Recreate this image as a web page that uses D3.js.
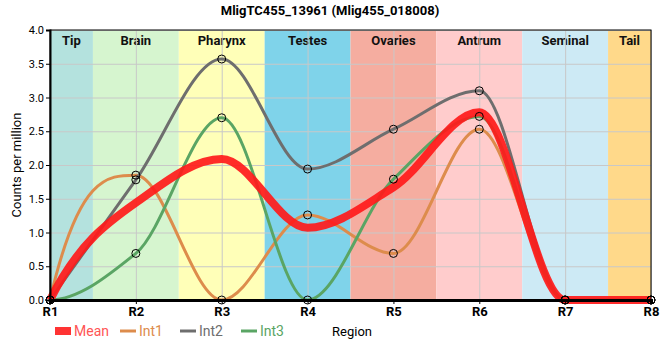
<!DOCTYPE html>
<html><head><meta charset="utf-8">
<script src="https://cdn.jsdelivr.net/npm/d3@7"></script>
<style>
body{margin:0;background:#fff;}
text{font-family:Roboto,"Liberation Sans",Arial,sans-serif;}
</style></head><body>
<svg id="chart" width="660" height="360"></svg>
<script>
const regions = ["R1","R2","R3","R4","R5","R6","R7","R8"];
const bandNames = ["Tip","Brain","Pharynx","Testes","Ovaries","Antrum","Seminal","Tail"];
const bandColors = ["#b4e2de","#d6f5cf","#ffffb8","#7fd3ea","#f5ada0","#ffcccc","#cdeaf5","#ffd98a"];
const int1 = [0, 1.85, 0, 1.26, 0.69, 2.53, 0, 0];
const int2 = [0, 1.78, 3.57, 1.94, 2.53, 3.10, 0, 0];
const int3 = [0, 0.69, 2.70, 0, 1.79, 2.72, 0, 0];
const mean = [0, 1.44, 2.09, 1.07, 1.67, 2.78, 0, 0];
const yTicks = [0,0.5,1,1.5,2,2.5,3,3.5,4];

// monotone (PCHIP-style) curve factory for d3.line
function CurvePchip(context){ this._context = context; }
CurvePchip.prototype = {
  areaStart(){}, areaEnd(){},
  lineStart(){ this._x=[]; this._y=[]; },
  point(x,y){ this._x.push(+x); this._y.push(+y); },
  lineEnd(){
    const X=this._x, Y=this._y, n=X.length, c=this._context;
    if(!n) return;
    c.moveTo(X[0],Y[0]);
    if(n<2) return;
    const h=[], d=[];
    for(let i=0;i<n-1;i++){ h.push(X[i+1]-X[i]); d.push((Y[i+1]-Y[i])/h[i]); }
    const m=new Array(n).fill(0);
    for(let k=1;k<n-1;k++){
      if(d[k-1]===0||d[k]===0||Math.sign(d[k-1])!==Math.sign(d[k])) m[k]=0;
      else { const w1=2*h[k]+h[k-1], w2=h[k]+2*h[k-1]; m[k]=(w1+w2)/(w1/d[k-1]+w2/d[k]); }
    }
    const edge=(dd,mn)=>{
      if(dd===0) return 0;
      let v=3*dd-2*mn;
      if(Math.sign(v)!==Math.sign(dd)) v=0;
      if(Math.abs(v)>Math.abs(3*dd)) v=3*dd;
      return v;
    };
    m[0]=edge(d[0], n>2?m[1]:d[0]);
    m[n-1]=edge(d[n-2], n>2?m[n-2]:d[n-2]);
    for(let i=0;i<n-1;i++){
      const dx=h[i]/3;
      c.bezierCurveTo(X[i]+dx,Y[i]+dx*m[i],X[i+1]-dx,Y[i+1]-dx*m[i+1],X[i+1],Y[i+1]);
    }
  }
};
const curvePchip = ctx => new CurvePchip(ctx);

const W=660,H=360, m={l:50,r:9,t:30,b:60};
const svg = d3.select("#chart");
const x = d3.scalePoint().domain(regions).range([m.l, W-m.r]);
const step = x.step();
const y = d3.scaleLinear().domain([0,4]).range([H-m.b, m.t]);

// bands
const bandG = svg.append("g");
bandNames.forEach((n,i)=>{
  const x0 = Math.max(m.l, x(regions[0]) + (i-0.5)*step);
  const x1 = Math.min(W-m.r, x(regions[0]) + (i+0.5)*step);
  bandG.append("rect").attr("x",x0).attr("y",m.t).attr("width",x1-x0).attr("height",y(0)-m.t).attr("fill",bandColors[i]);
  bandG.append("text").attr("x",(x0+x1)/2).attr("y",45).attr("text-anchor","middle")
    .attr("font-size",13).attr("font-weight","bold").attr("fill","#111").text(n);
});

// grid
const grid = svg.append("g").attr("stroke","#c8c8c8").attr("stroke-width",1);
yTicks.forEach(t=>grid.append("line").attr("x1",m.l).attr("x2",W-m.r).attr("y1",y(t)+0.5).attr("y2",y(t)+0.5));
regions.forEach(r=>grid.append("line").attr("x1",x(r)+0.5).attr("x2",x(r)+0.5).attr("y1",m.t).attr("y2",y(0)));

const line = d3.line().x((d,i)=>x(regions[i])).y(d=>y(d)).curve(curvePchip);
const series = [
  {name:"Int1", vals:int1, color:"#dd8c4c"},
  {name:"Int2", vals:int2, color:"#6e6e6e"},
  {name:"Int3", vals:int3, color:"#5aa564"}
];
series.forEach(s=>{
  svg.append("path").attr("d",line(s.vals)).attr("fill","none").attr("stroke",s.color).attr("stroke-width",3);
});
svg.append("path").attr("d",line(mean)).attr("fill","none").attr("stroke","#ff1a1a").attr("stroke-opacity",0.92).attr("stroke-width",8);
series.forEach(s=>{
  svg.append("g").selectAll("circle").data(s.vals).join("circle")
    .attr("cx",(d,i)=>x(regions[i])).attr("cy",d=>y(d)).attr("r",4)
    .attr("fill","none").attr("stroke","#000").attr("stroke-width",1);
});

// frame
svg.append("rect").attr("x",m.l).attr("y",m.t).attr("width",W-m.r-m.l).attr("height",y(0)-m.t)
  .attr("fill","none").attr("stroke","#000").attr("stroke-width",1);

// axes
const xAxis = svg.append("g").attr("transform",`translate(0,${y(0)})`)
  .call(d3.axisBottom(x).tickSize(4).tickPadding(3));
xAxis.select(".domain").attr("stroke-width",3);
xAxis.selectAll("text").attr("font-size",13).attr("font-weight","bold").attr("fill","#000").style("font-family","Roboto,Arial,sans-serif");
const yAxis = svg.append("g").attr("transform",`translate(${m.l},0)`)
  .call(d3.axisLeft(y).tickValues(yTicks).tickFormat(d3.format(".1f")).tickSize(4).tickPadding(2));
yAxis.select(".domain").attr("stroke-width",2);
yAxis.selectAll("text").attr("font-size",11).attr("fill","#000").style("font-family","Roboto,Arial,sans-serif");

// title & labels
svg.append("text").attr("x",330).attr("y",15).attr("text-anchor","middle").attr("font-size",13).attr("font-weight","bold").text("MligTC455_13961 (Mlig455_018008)");
svg.append("text").attr("transform",`translate(21,${(m.t+y(0))/2}) rotate(-90)`).attr("text-anchor","middle").attr("font-size",13).text("Counts per million");
svg.append("text").attr("x",352).attr("y",336).attr("text-anchor","middle").attr("font-size",13).text("Region");

// legend
const leg = svg.append("g");
leg.append("rect").attr("x",55).attr("y",327).attr("width",16).attr("height",8).attr("fill","#ff3333");
leg.append("text").attr("x",74).attr("y",336).attr("font-size",14).attr("fill","#ff5555").text("Mean");
const legItems = [{s:series[0],x:120},{s:series[1],x:180},{s:series[2],x:241}];
legItems.forEach(li=>{
  leg.append("line").attr("x1",li.x).attr("x2",li.x+16).attr("y1",331).attr("y2",331).attr("stroke",li.s.color).attr("stroke-width",3);
  leg.append("text").attr("x",li.x+19).attr("y",336).attr("font-size",14).attr("fill",li.s.color).text(li.s.name);
});
</script></body></html>
